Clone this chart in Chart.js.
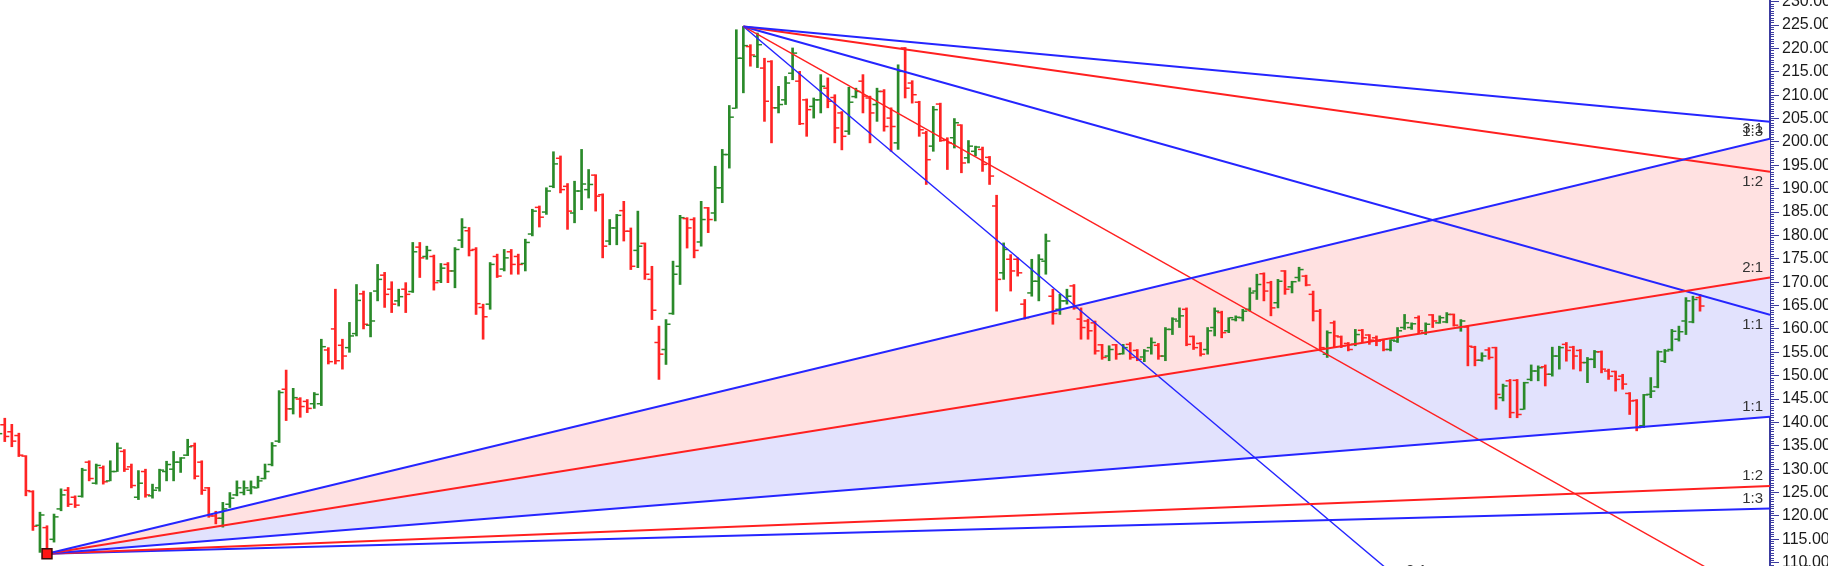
<!DOCTYPE html>
<html>
<head>
<meta charset="utf-8">
<script src="https://cdn.jsdelivr.net/npm/chart.js@4.4.1/dist/chart.umd.min.js"></script>
<style>
  html, body { margin: 0; padding: 0; background: #fff; overflow: hidden; }
  #wrap { width: 1828px; height: 566px; }
</style>
</head>
<body>
<div id="wrap"><canvas id="chart" width="1828" height="566"></canvas></div>
<script>
// daily OHLC (bar 0 sits just left of the frame)
const opens = [
  137.0, 139.5, 138.0, 137.2, 132.8, 125.2, 118.0, 117.5, 115.0, 121.5,
  125.5, 124.0, 124.2, 131.5, 127.0, 130.3, 127.5, 129.5, 133.8, 130.5,
  124.0, 129.5, 124.3, 126.0, 129.5, 130.0, 131.5, 133.0, 135.0, 131.5,
  126.0, 120.0, 119.5, 122.5, 124.5, 125.0, 125.5, 126.0, 128.0, 131.0,
  136.0, 147.1, 142.9, 145.0, 144.5, 144.0, 144.0, 155.5, 160.0, 156.5,
  156.0, 159.0, 167.5, 160.8, 168.1, 171.5, 168.5, 166.0, 168.5, 168.0,
  177.5, 175.5, 175.5, 170.3, 173.8, 172.4, 179.0, 181.0, 177.0, 164.6,
  165.3, 175.5, 172.8, 176.5, 175.5, 174.0, 180.3, 186.0, 185.0, 190.5,
  196.5, 190.5, 184.8, 189.5, 189.8, 192.9, 188.7, 178.8, 181.6, 185.3,
  180.9, 176.8, 178.3, 170.6, 157.1, 155.6, 163.3, 173.4, 183.6, 183.4,
  178.6, 185.9, 184.8, 190.2, 197.3, 207.2, 217.9, 220.4, 218.3, 215.8,
  217.2, 207.3, 209.0, 214.7, 213.0, 209.0, 207.6, 209.0, 211.5, 209.5,
  206.2, 202.3, 209.7, 213.0, 209.4, 208.0, 210.8, 205.1, 199.8, 220.1,
  212.6, 208.5, 201.9, 199.1, 208.1, 200.5, 200.9, 203.6, 196.6, 198.0,
  198.4, 196.7, 186.3, 172.0, 174.9, 174.9, 165.3, 167.7, 170.2, 174.5,
  167.0, 164.2, 166.0, 169.2, 162.1, 161.7, 161.3, 156.6, 154.2, 156.6,
  154.7, 156.7, 155.4, 154.0, 156.0, 156.5, 154.2, 159.9, 161.7, 164.2,
  158.4, 156.9, 155.6, 160.3, 163.5, 159.6, 162.0, 162.4, 164.2, 168.1,
  171.8, 169.9, 165.6, 172.4, 169.0, 171.0, 171.3, 167.4, 163.8, 154.6,
  161.3, 158.3, 156.9, 156.7, 159.7, 158.7, 158.1, 157.6, 155.6, 157.4,
  160.3, 160.3, 162.4, 159.2, 163.0, 161.3, 161.5, 163.1, 160.3, 160.4,
  156.1, 153.3, 155.5, 156.0, 145.3, 148.9, 149.0, 142.8, 149.2, 151.0,
  151.9, 150.3, 154.2, 156.7, 156.1, 155.4, 152.8, 153.5, 155.1, 151.0,
  150.9, 149.9, 146.2, 144.7, 139.3, 146.0, 147.6, 153.1, 155.6, 157.8,
  161.7, 161.5, 166.7
];
const highs = [
  140.5, 140.9, 139.6, 137.7, 132.9, 125.4, 120.8, 117.9, 120.4, 125.8,
  126.1, 124.3, 130.2, 131.8, 131.1, 130.7, 131.8, 135.6, 134.2, 131.1,
  129.7, 130.0, 126.8, 130.0, 131.7, 133.8, 132.5, 136.4, 135.6, 131.8,
  126.1, 121.0, 122.9, 125.0, 127.5, 127.5, 127.5, 128.5, 131.1, 135.7,
  146.8, 151.2, 147.3, 145.3, 144.9, 146.4, 157.8, 156.0, 168.5, 157.8,
  161.4, 169.5, 168.1, 167.8, 173.8, 172.1, 170.1, 168.5, 169.9, 178.5,
  178.5, 177.7, 175.8, 174.0, 174.2, 177.4, 183.6, 181.7, 177.4, 165.3,
  174.2, 176.0, 177.0, 177.0, 176.0, 179.2, 185.6, 186.3, 190.2, 197.9,
  197.0, 191.1, 191.6, 198.4, 194.1, 193.0, 188.9, 183.4, 184.5, 187.3,
  181.6, 185.2, 178.4, 173.4, 160.6, 162.0, 174.5, 184.3, 183.8, 183.8,
  187.3, 186.0, 194.8, 198.4, 207.8, 224.0, 224.7, 220.8, 223.3, 217.9,
  217.4, 211.9, 214.0, 220.1, 215.1, 209.2, 209.4, 214.4, 213.7, 210.1,
  206.5, 211.7, 211.5, 214.4, 209.8, 211.5, 211.2, 207.3, 216.5, 220.2,
  213.1, 208.7, 202.3, 207.6, 208.3, 200.9, 205.0, 203.7, 200.3, 199.1,
  198.9, 196.9, 188.6, 178.4, 175.9, 175.2, 166.3, 174.9, 175.9, 180.3,
  168.5, 167.4, 168.5, 169.5, 164.5, 162.1, 161.7, 156.7, 156.4, 156.7,
  156.7, 157.1, 155.6, 155.6, 158.1, 156.9, 160.3, 162.4, 164.5, 164.5,
  158.5, 157.1, 160.3, 164.5, 163.8, 162.4, 162.8, 164.2, 168.8, 171.7,
  172.0, 170.2, 170.6, 172.5, 170.2, 173.2, 171.5, 168.1, 164.2, 159.6,
  161.7, 158.5, 157.1, 159.9, 159.9, 158.8, 158.5, 157.8, 157.7, 160.3,
  163.1, 161.3, 162.8, 161.3, 163.1, 162.8, 163.5, 163.2, 162.0, 160.6,
  156.3, 154.9, 156.0, 156.1, 148.2, 149.2, 149.2, 148.6, 152.3, 152.1,
  152.3, 156.1, 156.3, 157.1, 156.3, 155.6, 153.9, 155.4, 155.3, 151.4,
  151.0, 150.3, 146.4, 144.9, 146.0, 149.6, 155.3, 155.6, 159.9, 160.6,
  166.7, 167.0, 167.4
];
const lows = [
  136.5, 135.9, 134.8, 132.7, 124.3, 116.9, 112.2, 111.9, 114.4, 121.1,
  122.0, 121.8, 124.0, 127.5, 126.8, 126.8, 127.5, 129.5, 129.5, 126.0,
  123.5, 124.0, 123.8, 125.3, 127.5, 127.5, 129.3, 132.9, 127.9, 124.6,
  119.7, 118.3, 117.6, 121.8, 124.3, 124.5, 124.7, 126.0, 127.9, 130.7,
  135.7, 140.4, 141.8, 141.1, 142.1, 143.0, 143.6, 152.5, 152.5, 151.4,
  155.0, 158.5, 160.0, 158.3, 166.0, 164.6, 163.5, 164.9, 163.5, 167.8,
  171.0, 174.9, 168.3, 169.9, 169.9, 168.8, 177.4, 175.6, 163.1, 157.8,
  164.2, 171.0, 172.4, 171.7, 171.7, 172.4, 179.9, 181.8, 184.5, 190.2,
  189.1, 181.3, 182.7, 185.5, 188.0, 185.2, 175.2, 178.0, 178.0, 178.8,
  172.7, 173.1, 170.6, 162.0, 149.2, 152.4, 163.1, 169.5, 177.3, 175.2,
  177.7, 180.6, 183.1, 187.0, 194.4, 207.2, 210.5, 216.2, 215.9, 204.4,
  199.8, 206.2, 208.0, 213.3, 203.7, 201.2, 205.1, 206.2, 207.3, 199.8,
  198.3, 201.6, 209.4, 206.2, 199.8, 204.4, 202.3, 198.0, 198.4, 209.4,
  208.3, 201.2, 190.9, 198.0, 200.1, 194.1, 198.7, 193.4, 195.5, 197.0,
  193.7, 190.9, 163.8, 170.6, 168.1, 171.3, 162.1, 167.0, 166.0, 171.7,
  161.0, 163.1, 165.3, 164.2, 157.8, 157.8, 154.6, 153.5, 153.2, 153.5,
  154.6, 153.5, 153.2, 153.0, 154.6, 153.5, 153.2, 158.8, 160.3, 156.4,
  155.6, 154.2, 154.6, 158.5, 158.1, 159.2, 161.7, 161.7, 163.8, 166.3,
  166.0, 162.8, 164.5, 167.4, 167.7, 170.2, 169.2, 161.7, 155.3, 153.9,
  156.0, 156.0, 155.3, 156.4, 157.1, 156.7, 156.4, 155.3, 155.3, 157.1,
  159.9, 159.9, 159.2, 158.8, 160.3, 161.2, 161.3, 160.6, 159.5, 152.1,
  152.1, 153.1, 153.5, 142.8, 144.6, 141.0, 141.0, 142.8, 148.9, 148.9,
  147.8, 149.9, 151.4, 153.1, 151.4, 151.0, 148.5, 151.7, 150.6, 149.2,
  146.7, 147.1, 141.7, 138.2, 138.9, 145.3, 147.4, 152.8, 155.3, 157.4,
  158.8, 161.3, 163.8
];
const closes = [
  137.6, 137.0, 136.0, 133.0, 125.4, 117.8, 120.2, 112.3, 119.8, 124.5,
  122.5, 122.3, 129.8, 128.0, 130.8, 127.3, 129.5, 134.5, 130.0, 126.5,
  127.0, 124.5, 125.5, 129.8, 131.0, 131.5, 132.4, 134.8, 128.5, 125.5,
  120.0, 119.5, 121.5, 123.8, 126.0, 126.0, 126.2, 127.5, 129.5, 135.0,
  146.4, 142.9, 145.3, 143.4, 143.0, 146.0, 156.2, 153.0, 153.2, 154.2,
  158.5, 166.1, 161.0, 161.7, 170.6, 167.4, 165.3, 166.9, 167.4, 176.5,
  175.2, 176.8, 169.9, 173.0, 172.4, 177.0, 181.7, 176.8, 165.4, 162.6,
  173.8, 171.3, 175.2, 173.8, 173.8, 178.5, 185.2, 183.9, 189.5, 195.3,
  189.8, 185.2, 189.5, 191.0, 190.9, 188.4, 177.7, 181.6, 184.3, 180.9,
  173.4, 177.7, 171.7, 164.0, 154.6, 161.0, 171.7, 183.8, 181.6, 176.8,
  183.4, 183.4, 190.2, 197.3, 205.3, 217.9, 220.6, 218.6, 220.8, 208.7,
  207.3, 208.0, 212.6, 219.0, 203.9, 206.9, 209.0, 211.9, 208.7, 203.0,
  201.2, 208.5, 210.8, 209.8, 206.2, 210.8, 203.3, 203.3, 215.1, 211.5,
  210.1, 202.6, 196.2, 206.9, 200.3, 199.8, 204.1, 195.5, 199.1, 198.9,
  195.2, 192.7, 170.6, 177.0, 172.4, 172.0, 162.4, 170.2, 174.9, 178.8,
  163.3, 166.0, 167.0, 164.5, 160.3, 159.6, 155.3, 153.9, 155.6, 154.6,
  156.0, 153.9, 153.5, 155.3, 157.1, 154.2, 159.9, 162.1, 162.8, 156.7,
  156.0, 154.6, 159.6, 163.8, 159.2, 162.4, 162.5, 163.8, 167.7, 169.5,
  168.1, 164.5, 170.2, 168.5, 170.1, 172.7, 169.4, 163.8, 156.0, 159.2,
  158.5, 156.4, 155.6, 158.8, 158.1, 157.6, 157.4, 155.6, 157.6, 159.6,
  161.3, 161.1, 159.6, 161.0, 161.7, 162.4, 163.1, 160.8, 161.7, 156.3,
  153.3, 154.2, 153.9, 146.0, 147.8, 142.1, 141.7, 148.5, 151.0, 151.7,
  150.3, 154.2, 156.0, 155.4, 154.2, 152.8, 153.5, 155.1, 151.4, 149.9,
  149.2, 148.2, 144.6, 138.9, 145.9, 146.7, 155.1, 155.3, 159.5, 159.4,
  166.0, 166.3, 164.9
];

// Gann fans: pivot bar + price, and where each ray meets the right axis
const lowPivot = { index: 7, price: 111.9 };
const highPivot = { index: 106, price: 224.7 };
const lowFanLabels = ['3:1', '2:1', '1:1', '1:2', '1:3'];
const lowFanEnds = [200.7, 171.0, 141.2, 126.4, 121.6];
const highFanLabels = ['1:3', '1:2', '1:1', '3:1', '2:1'];
const highFanEnds = [204.3, 193.6, 163.0, 101.3, 39.6];

const priceTicks = [110, 115, 120, 125, 130, 135, 140, 145, 150, 155, 160, 165, 170,
  175, 180, 185, 190, 195, 200, 205, 210, 215, 220, 225, 230];

// view window
const X_MIN = 0.32, X_MAX = 251.95;
const Y_MIN = 109.29, Y_MAX = 230.36;

const UP = '#2a8a2a', DOWN = '#ff2424';
const BLUE = '#2525ff', RED = '#ff2020';
const PINK = '#ffe1e1', LAVENDER = '#e2e2fd';
const AXIS = '#3c3ca0';
const TICK_OFF = 0.36;
// where the labels of the two steep rays sit past their bottom exit (px)
const exitLabelDx = [0, 0, 0, 109, 33];

const idx = opens.map((_, i) => i);
const barColor = i => (closes[i] >= opens[i] ? UP : DOWN);
const colors = idx.map(barColor);

const fanLine = (pivot, end, color, width, fill, bg) => ({
  type: 'line',
  data: [{ x: pivot.index, y: pivot.price }, { x: X_MAX, y: end }],
  borderColor: color,
  borderWidth: width,
  pointRadius: 0,
  tension: 0,
  fill: fill,
  backgroundColor: bg || 'transparent',
  order: 1
});

const lowColors = [BLUE, RED, BLUE, RED, BLUE];
const highColors = [BLUE, RED, BLUE, RED, BLUE];

const datasets = [
  {
    type: 'bar',
    data: idx.map(i => ({ x: i, y: [lows[i], highs[i]] })),
    backgroundColor: colors,
    borderWidth: 0,
    barThickness: 2,
    grouped: false,
    order: 2
  },
  {
    type: 'scatter',
    data: idx.map(i => ({ x: i - TICK_OFF, y: opens[i] })),
    pointStyle: 'line',
    pointRadius: 2,
    pointBorderWidth: 1.5,
    pointBorderColor: colors,
    order: 2
  },
  {
    type: 'scatter',
    data: idx.map(i => ({ x: i + TICK_OFF, y: closes[i] })),
    pointStyle: 'line',
    pointRadius: 2,
    pointBorderWidth: 1.5,
    pointBorderColor: colors,
    order: 2
  }
];
lowFanEnds.forEach((v, k) => {
  const fill = k < 2 ? '+1' : false;
  const bg = k === 0 ? PINK : k === 1 ? LAVENDER : null;
  datasets.push(fanLine(lowPivot, v, lowColors[k], 2, fill, bg));
});
highFanEnds.forEach((v, k) => {
  datasets.push(fanLine(highPivot, v, highColors[k], k > 2 ? 1.4 : 2, false, null));
});
datasets.push({
  type: 'scatter',
  data: [{ x: lowPivot.index, y: lowPivot.price }],
  pointStyle: 'rect',
  pointRadius: 7,
  pointBackgroundColor: '#ff1414',
  pointBorderColor: '#3a0a0a',
  pointBorderWidth: 1.5,
  order: 0
});

const fanLabels = {
  id: 'fanLabels',
  afterDatasetsDraw(chart) {
    const { ctx, chartArea, scales: { x, y } } = chart;
    ctx.save();
    ctx.font = '15px "Liberation Sans", Arial, sans-serif';
    ctx.fillStyle = '#333';
    ctx.textBaseline = 'middle';
    ctx.textAlign = 'right';
    const xr = x.getPixelForValue(X_MAX) - 7;
    lowFanEnds.forEach((v, k) => {
      ctx.fillText(lowFanLabels[k], xr, y.getPixelForValue(v) - 10);
    });
    const px0 = x.getPixelForValue(highPivot.index);
    const py0 = y.getPixelForValue(highPivot.price);
    highFanEnds.forEach((v, k) => {
      const py = y.getPixelForValue(v);
      if (py + 10 < chartArea.bottom) {
        ctx.fillText(highFanLabels[k], xr, py + 10);
      } else {
        const exitX = px0 + (x.getPixelForValue(X_MAX) - px0) * (chartArea.bottom - py0) / (py - py0);
        ctx.textAlign = 'center';
        ctx.fillText(highFanLabels[k], exitX + exitLabelDx[k], chartArea.bottom + 5);
        ctx.textAlign = 'right';
      }
    });
    ctx.restore();
  }
};

const noPad = scale => {
  scale.paddingTop = 0;
  scale.paddingBottom = 0;
  scale.paddingLeft = 0;
  scale.paddingRight = 0;
};

new Chart(document.getElementById('chart'), {
  type: 'bar',
  data: { datasets },
  options: {
    responsive: false,
    animation: false,
    devicePixelRatio: 1,
    events: [],
    layout: { padding: 0, autoPadding: false },
    plugins: {
      legend: { display: false },
      tooltip: { enabled: false },
      filler: { drawTime: 'beforeDatasetsDraw' }
    },
    scales: {
      x: {
        type: 'linear', display: false, min: X_MIN, max: X_MAX, offset: false,
        afterFit: noPad
      },
      y: {
        position: 'right',
        min: Y_MIN,
        max: Y_MAX,
        afterBuildTicks(scale) {
          const t = [];
          for (let v = priceTicks[0] - 0.5; v <= priceTicks[priceTicks.length - 1]; v += 0.5) t.push({ value: v });
          scale.ticks = t;
        },
        afterFit(scale) { scale.width = 58; noPad(scale); },
        border: { display: true, color: AXIS, width: 2 },
        grid: {
          drawOnChartArea: false,
          tickLength: 9,
          tickColor: AXIS,
          tickWidth: 1,
          tickBorderDash: c => (priceTicks.includes(c.tick.value) ? [] : [3, 20])
        },
        ticks: {
          autoSkip: false,
          padding: 3,
          color: '#1a1a1a',
          font: { family: '"Liberation Sans", Arial, sans-serif', size: 16 },
          callback: v => (priceTicks.includes(v) ? v.toFixed(2) : '')
        }
      }
    }
  },
  plugins: [fanLabels]
});
</script>
</body>
</html>
